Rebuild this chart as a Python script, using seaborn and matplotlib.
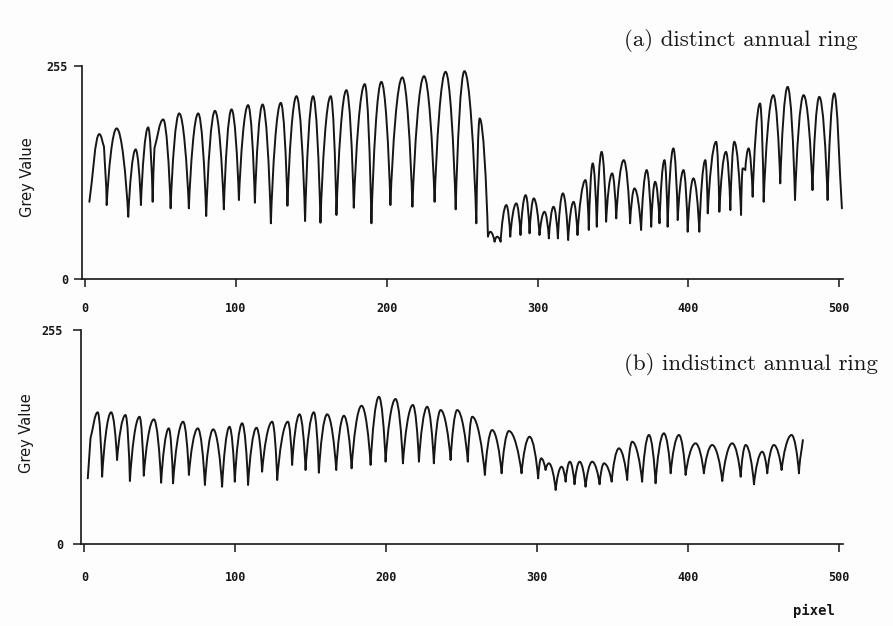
import matplotlib
matplotlib.use("Agg")
import matplotlib.pyplot as plt
from matplotlib.path import Path
from matplotlib.patches import PathPatch
import seaborn as sns

# ---------------- data (turning points) ----------------
xa = [2.7, 9.3, 12.4, 14.2, 20.8, 28.5, 33.4, 36.9, 41.7, 44.7,
      45.9, 51.7, 56.6, 62.3, 68.7, 74.9, 80.2, 86.0, 91.9, 97.0,
      101.9, 108.0, 112.5, 117.6, 123.1, 129.7, 134.1, 140.1, 145.8, 151.1,
      156.0, 162.8, 166.6, 173.2, 178.1, 185.4, 189.8, 196.4, 202.4, 210.3,
      217.0, 224.7, 231.7, 239.0, 245.7, 251.5, 259.4, 261.6, 267.1, 268.7,
      271.5, 273.2, 275.5, 279.3, 281.9, 285.9, 288.7, 292.1, 294.7, 297.5,
      301.3, 304.6, 307.5, 310.6, 313.5, 316.8, 320.3, 323.9, 326.5, 331.8,
      334.0, 336.6, 339.3, 342.5, 345.5, 349.5, 352.2, 357.2, 361.4, 364.3,
      368.7, 372.4, 375.4, 378.0, 380.9, 384.2, 386.3, 390.1, 393.0, 396.8,
      399.6, 403.4, 407.3, 411.3, 412.9, 418.5, 420.6, 425.0, 427.9, 430.5,
      435.0, 436.1, 437.8, 440.0, 442.7, 447.6, 450.0, 456.4, 461.0, 465.9,
      470.8, 476.5, 482.4, 486.9, 492.4, 496.8, 501.9]
ya = [92.6, 173.5, 158.3, 88.7, 180.3, 74.7, 155.2, 88.7, 181.5, 92.6,
      156.8, 191.0, 84.8, 198.2, 84.8, 198.2, 75.6, 201.3, 83.6, 203.0,
      94.7, 208.1, 91.5, 208.9, 66.9, 210.8, 87.9, 218.8, 69.6, 218.8,
      67.6, 218.8, 76.8, 226.0, 85.5, 233.2, 66.9, 235.9, 88.7, 241.2,
      86.7, 242.7, 92.6, 247.9, 83.6, 248.7, 66.9, 192.2, 50.9, 56.8,
      44.9, 50.9, 44.9, 88.7, 50.9, 90.7, 52.9, 100.6, 54.9, 96.7,
      52.9, 80.7, 48.9, 86.7, 48.9, 102.7, 46.9, 92.6, 52.9, 118.6,
      58.9, 138.5, 62.8, 152.3, 68.8, 126.6, 72.8, 142.4, 66.9, 108.6,
      58.9, 130.5, 62.8, 116.5, 66.9, 142.4, 62.8, 156.4, 70.8, 130.5,
      56.8, 120.6, 56.8, 142.4, 78.8, 164.3, 80.7, 152.3, 82.7, 164.3,
      76.8, 132.5, 130.5, 156.4, 98.6, 210.1, 92.6, 220.0, 114.6, 229.9,
      94.7, 220.0, 106.6, 218.0, 94.7, 222.1, 84.8]

xb = [2.3, 4.1, 8.9, 11.8, 17.8, 21.7, 27.3, 30.2, 36.6, 39.4,
      46.1, 50.9, 56.0, 58.8, 65.5, 69.3, 75.2, 79.9, 85.4, 91.3,
      96.2, 99.7, 104.6, 108.5, 114.1, 117.8, 124.5, 127.8, 134.9, 137.7,
      142.6, 146.6, 152.1, 155.4, 160.9, 166.9, 172.0, 177.1, 183.7, 189.7,
      195.2, 199.6, 206.2, 211.1, 217.7, 221.7, 227.2, 231.6, 236.1, 242.7,
      247.1, 254.1, 257.0, 265.4, 270.2, 276.5, 281.3, 289.7, 295.0, 300.7,
      302.7, 305.6, 307.8, 312.3, 316.2, 318.9, 321.7, 324.8, 328.2, 332.1,
      336.5, 341.4, 344.3, 349.4, 354.2, 359.7, 363.0, 369.6, 374.1, 378.5,
      384.0, 388.5, 394.0, 398.4, 405.0, 410.5, 416.0, 422.7, 429.3, 434.9,
      438.2, 443.7, 449.2, 452.5, 456.9, 462.0, 468.6, 473.5, 476.1]
yb = [78.5, 126.1, 157.1, 80.4, 157.1, 100.3, 153.9, 75.3, 151.8, 81.6,
      148.7, 73.3, 138.0, 72.6, 145.9, 82.5, 138.0, 70.6, 136.8, 68.5,
      139.9, 74.5, 144.0, 70.6, 138.7, 86.4, 145.9, 76.5, 145.9, 94.4,
      154.7, 88.4, 157.1, 85.2, 154.7, 88.4, 153.0, 90.4, 164.9, 94.4,
      175.6, 98.3, 172.9, 96.4, 165.8, 98.3, 163.7, 96.4, 159.8, 100.3,
      159.8, 98.3, 151.8, 82.5, 136.0, 84.5, 134.8, 84.5, 128.0, 78.5,
      102.3, 88.4, 96.4, 64.6, 92.3, 74.5, 98.3, 71.4, 98.3, 68.5,
      98.3, 71.4, 96.4, 74.5, 114.2, 76.5, 122.1, 74.5, 130.1, 72.6,
      132.1, 84.5, 130.1, 82.5, 120.2, 84.5, 118.2, 75.3, 120.2, 80.4,
      118.2, 71.4, 110.2, 84.5, 118.2, 88.4, 130.1, 84.5, 124.1]

x_ticks = [0, 100, 200, 300, 400, 500]
x_ticklabels = ["0", "100", "200", "300", "400", "500"]
y_ticks = [0, 255]
y_ticklabels = ["0", "255"]
titles = ["(a) distinct annual ring", "(b) indistinct annual ring"]
y_label = "Grey Value"
x_label = "pixel"


def render_rounded(ax, line):
    """Redraw a seaborn line as Bezier segments: rounded crests, sharp dips
    (a drawing style only; the curve still passes through every data point)."""
    xs = list(line.get_xdata())
    ys = list(line.get_ydata())
    n = len(xs)
    kind = []
    for i in range(n):
        if 0 < i < n - 1 and ys[i] > ys[i - 1] and ys[i] > ys[i + 1]:
            kind.append("peak")
        elif 0 < i < n - 1 and ys[i] < ys[i - 1] and ys[i] < ys[i + 1]:
            kind.append("trough")
        else:
            kind.append("other")
    verts = [(xs[0], ys[0])]
    codes = [Path.MOVETO]
    for i in range(n - 1):
        x0, y0, x1, y1 = xs[i], ys[i], xs[i + 1], ys[i + 1]
        dx, dy = x1 - x0, y1 - y0
        if kind[i] == "peak":
            c1 = (x0 + 0.42 * dx, y0)
        elif kind[i] == "trough":
            c1 = (x0 + 0.18 * dx, y0 + 0.45 * dy)
        else:
            c1 = (x0 + dx / 3, y0 + dy / 3)
        if kind[i + 1] == "peak":
            c2 = (x1 - 0.42 * dx, y1)
        elif kind[i + 1] == "trough":
            c2 = (x1 - 0.18 * dx, y1 - 0.45 * dy)
        else:
            c2 = (x1 - dx / 3, y1 - dy / 3)
        verts += [c1, c2, (x1, y1)]
        codes += [Path.CURVE4] * 3
    patch = PathPatch(Path(verts, codes), fill=False,
                      edgecolor=line.get_color(),
                      linewidth=line.get_linewidth(),
                      joinstyle="round", capstyle="round",
                      transform=ax.transData)
    line.remove()
    ax.add_patch(patch)


# ---------------- figure ----------------
sns.set_theme(style="white")
plt.rcParams["font.family"] = ["DejaVu Sans"]

fig = plt.figure(figsize=(8.93, 6.26), dpi=100)
fig.patch.set_facecolor("#fdfdfd")

axa = fig.add_axes([0.0918, 0.5538, 0.852, 0.341])
axb = fig.add_axes([0.0907, 0.1305, 0.853, 0.3423])

ink = "#161616"
tickfont = dict(family="DejaVu Sans Mono", weight="bold", size=8.5)

for ax, x, y, xpad, ypad, ylab_y in [(axa, xa, ya, 10, 4, 0.48),
                                      (axb, xb, yb, 13.5, 7, 0.52)]:
    sns.lineplot(x=x, y=y, ax=ax, color=ink, linewidth=1.4,
                 sort=False, estimator=None)
    render_rounded(ax, ax.lines[-1])
    ax.set_facecolor("none")
    ax.set_xlim(-2.2, 502.5)
    ax.set_ylim(0, 255)
    ax.set_xticks(x_ticks)
    ax.set_xticklabels(x_ticklabels, fontdict=tickfont, color=ink)
    ax.set_yticks(y_ticks)
    ax.set_yticklabels(y_ticklabels, fontdict=tickfont, color=ink)
    for s in ["top", "right"]:
        ax.spines[s].set_visible(False)
    for s in ["left", "bottom"]:
        ax.spines[s].set_color(ink)
        ax.spines[s].set_linewidth(1.2)
    ax.tick_params(axis="x", direction="out", length=6, width=1.1,
                   color=ink, pad=xpad, bottom=True)
    ax.tick_params(axis="y", direction="out", length=6, width=1.1,
                   color=ink, pad=ypad, left=True)
    ax.set_ylabel(y_label, fontsize=10.5, color=ink, family="DejaVu Sans")
    ax.yaxis.set_label_coords(-0.062, ylab_y)
    ax.set_xlabel("")

fig.text(858 / 893, 1 - 40 / 626, titles[0], family="cmr10", fontsize=16.5,
         ha="right", va="center", color=ink)
fig.text(878 / 893, 1 - 365 / 626, titles[1], family="cmr10", fontsize=16.5,
         ha="right", va="center", color=ink)
fig.text(814 / 893, 1 - 611 / 626, x_label, family="DejaVu Sans Mono",
         weight="bold", fontsize=10, ha="center", va="center", color=ink)

fig.savefig("out.png", dpi=100, facecolor=fig.get_facecolor())
